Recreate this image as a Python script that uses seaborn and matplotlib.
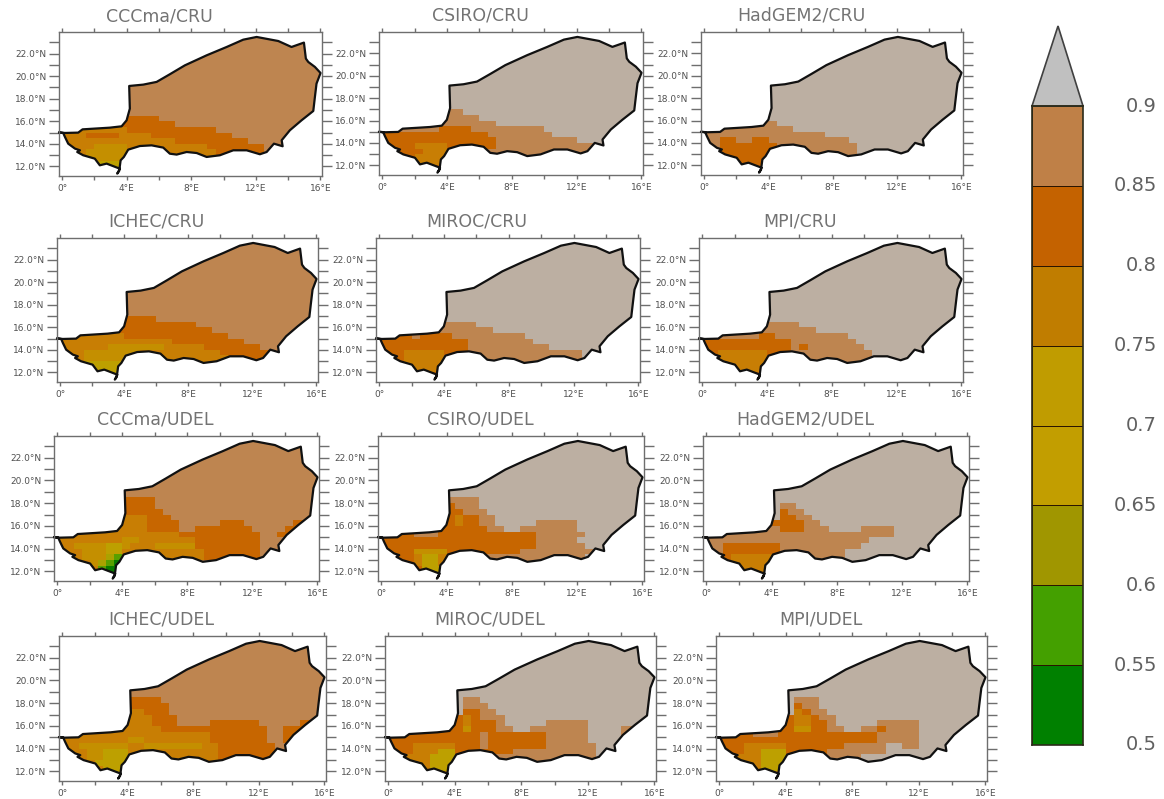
import numpy as np
import pandas as pd
import matplotlib.pyplot as plt
from matplotlib.colors import ListedColormap, BoundaryNorm
from matplotlib.patches import Polygon
import seaborn as sns

# Colour classes: digit d in the rows below = class between level_edges[d-1] and level_edges[d]
level_edges = [0.5, 0.55, 0.6, 0.65, 0.7, 0.75, 0.8, 0.85, 0.9, 0.95]
bar_labels = ["0.5", "0.55", "0.6", "0.65", "0.7", "0.75", "0.8", "0.85", "0.9"]
bar_colors = ["#008000", "#44A000", "#A09600", "#C29E00", "#C09C00",
              "#C07D00", "#C46200", "#BF8047", "#C0C0C0"]
# the maps come out a little softer than the bar
map_colors = ["#0A7A00", "#58A000", "#AAA200", "#BDA000", "#C48F00",
              "#C87E04", "#C76600", "#BE8550", "#BCAFA2"]

# Niger outline
outline_lon = [-0.2, 0.17, 0.99, 1.26, 2.95, 3.68, 3.99, 4.19, 4.15, 5.02, 5.85, 6.67, 7.60, 8.95,
               10.19, 11.22, 12.05, 13.39, 14.21, 14.98, 15.10, 15.25, 15.66, 16.01, 15.76, 15.66,
               15.56, 14.83, 14.11, 13.60, 13.66, 13.12, 12.98, 12.67, 12.25, 11.43, 10.60, 9.77,
               8.95, 8.33, 7.71, 7.09, 6.67, 6.26, 5.54, 4.81, 4.09, 3.82, 3.62, 3.53, 3.41, 3.57,
               2.75, 2.33, 2.02, 1.30, 0.93, 1.10, 0.79, 0.37, 0.17, 0.06, -0.2]
outline_lat = [15.0, 14.96, 14.99, 15.28, 15.43, 15.55, 16.08, 17.12, 19.13, 19.25, 19.49, 20.17,
               20.96, 21.85, 22.59, 23.24, 23.48, 23.12, 22.59, 22.98, 21.56, 21.26, 20.82, 20.28,
               19.34, 18.15, 16.91, 16.08, 15.20, 14.31, 13.78, 14.01, 13.78, 13.27, 13.07, 13.42,
               13.42, 12.98, 12.83, 13.18, 13.27, 13.04, 13.12, 13.66, 13.86, 13.80, 13.48, 12.83,
               12.53, 11.59, 11.35, 11.79, 12.24, 12.09, 12.68, 12.98, 13.27, 13.42, 13.57, 14.01,
               14.60, 14.96, 15.0]

# Rows run south-aligned, last row is 11.0-11.5N, each char is a 0.5 degree cell from 0E
cccma_cru = ["888888887777", "88888887777777", "6666666677777777777", "666777766667777777777",
             "66666666666666777777777", "6666555566666666667777777", "6665555566666666666777777",
             "6655555566666666666666666", "66664444", "66664444", "66664444"]
csiro_cru = ["9999999988", "999999998888", "99999998888888", "88888887777888888888",
             "777777777777788888888", "777777777777778888888888", "77776666777777888888888888",
             "77777666888888888888888888", "77776666888888888888888888", "77776666", "77777777", "77777777"]
hadgem_cru = ["999999988", "88888888888", "888888888888888", "887788778888888888",
              "8877777778888888888", "7777777788888888888", "7777777788888888888",
              "77777777", "77777777", "77777777"]
ichec_cru = ["888888887777", "88888888777777777", "8888888777777777777", "666666667777777777777",
             "66666666666666777777777", "6666665555555666667777777", "666555555566666666667777777",
             "666555556666666666666777777", "664444446666666666666666666", "66664444", "66664444", "66664444"]
miroc_cru = ["999999998888", "99999998888888", "887787777888888888", "7777777777788888888",
             "777777777778888888888", "7776666677788888888888888", "7776666688888888888888888",
             "7776666688888888888888888", "77776666", "77777777", "77777777"]
mpi_cru = ["999999998888", "99999998888888", "888888877888888888", "7777777777788888888",
           "77777777777878888888", "776666667778888888888", "776666668888888888888",
           "776666668888888888888", "77766666", "77777777", "77777777"]
cccma_udel = ["888888887777", "888888887777", "8888888877777", "88888888666777",
              "8888888866677778888877788888877", "888888866667777887777777888877",
              "66666666666666677777777778877", "6666666655666666677777777",
              "6655554456665555577777777", "6665554466666666667777777",
              "6665553266666666667777777", "66665321", "66666211", "66666611", "66666611"]
csiro_udel = ["999999998888", "999999997888", "9999999977888", "99999999767788",
              "999999997677889999988888", "999999977777788998888888",
              "7777888777777777777888888", "777777777777777777788888",
              "7777777777777777777888888", "77775555777777777888888888",
              "7777644688888888888888888", "7777644688888888888888888",
              "77777444", "77777444", "77777444"]
hadgem_udel = ["99999999988", "999999999788", "9999999997788", "99999999777788",
               "99999998877788899998888", "88888888888888888888888", "88888888888888888888",
               "8877777778888888888", "88777777788888888", "77766666888888888",
               "77766666", "77776666", "77776666", "77776666"]
ichec_udel = ["888888887777", "8888888877777", "8888888866777", "88888888666777",
              "8888888866677788887777778888877", "888888866666777777777777788777",
              "66666666666666666677777778877", "66666666556666666677777778877",
              "6655555566555555566777777788", "666554446666666666677777777",
              "666554446666666666677777777", "666644446666666666677777777",
              "66666444", "66666444", "66666444"]
miroc_udel = ["99999999988", "999999999888", "9999999997788", "99999999767888",
              "999999997677789999988888", "9999999775777889988888889999888",
              "777777777778777777788888999988", "777777777778777777788888",
              "7776666677787777777888888", "7776664477777778888888888",
              "7766644488888888888888888", "7776644488888888888888888",
              "77776444", "77776666", "77776666"]
mpi_udel = ["999999999888", "999999999788", "9999999996788", "99999999766788",
            "999999997667789999988888", "999999977557788998878888",
            "777788877777777777788888", "777777777777777777788888",
            "777666667777777888889988", "77766444777778888888",
            "77666444888888888", "77766444888888888",
            "77776444", "77776666", "77776666"]

panel_titles = ["CCCma/CRU", "CSIRO/CRU", "HadGEM2/CRU", "ICHEC/CRU", "MIROC/CRU", "MPI/CRU",
                "CCCma/UDEL", "CSIRO/UDEL", "HadGEM2/UDEL", "ICHEC/UDEL", "MIROC/UDEL", "MPI/UDEL"]
panel_rows = [cccma_cru, csiro_cru, hadgem_cru, ichec_cru, miroc_cru, mpi_cru,
              cccma_udel, csiro_udel, hadgem_udel, ichec_udel, miroc_udel, mpi_udel]
panel_fill = ["8", "9", "9", "8", "9", "9", "8", "9", "9", "8", "9", "9"]

# Frames in pixels: left, right, top, bottom
panel_boxes = [(59, 322, 32, 176), (379, 643, 32, 175), (701, 963, 32, 175),
               (57, 318, 238, 382), (376, 640, 238, 382), (699, 963, 238, 382),
               (54, 319, 436, 581), (378, 644, 436, 581), (703, 969, 436, 581),
               (59, 326, 636, 781), (385, 656, 636, 781), (716, 987, 636, 781)]

W, H = 1164, 799
N_ROWS, N_COLS = 26, 33
GREY = "#6e6e6e"

sns.set_style("ticks")
plt.rcParams["font.family"] = ["DejaVu Sans"]
fig = plt.figure(figsize=(W / 100, H / 100), dpi=100)

mids = [(level_edges[i] + level_edges[i + 1]) / 2 for i in range(9)]
norm = BoundaryNorm(level_edges, 9)
map_cmap = ListedColormap(map_colors)
bar_cmap = ListedColormap(bar_colors)


def to_x(lon):
    return np.asarray(lon) / 0.5


def to_y(lat):
    return (24 - np.asarray(lat)) / 0.5


def add_box(left, right, top, bottom):
    return fig.add_axes([left / W, 1 - bottom / H, (right - left) / W, (bottom - top) / H])


def lon_label(v):
    return "0°" if v == 0 else f"{v}°E"


for title, rows, fill, box in zip(panel_titles, panel_rows, panel_fill, panel_boxes):
    ax = add_box(*box)
    rows = [""] * (N_ROWS - len(rows)) + rows
    grid = np.array([[mids[int(c) - 1] for c in r.ljust(N_COLS, fill)] for r in rows])
    sns.heatmap(pd.DataFrame(grid), ax=ax, cmap=map_cmap, norm=norm, cbar=False,
                xticklabels=False, yticklabels=False)

    # keep only the cells inside the country
    shape = Polygon(np.column_stack([to_x(outline_lon), to_y(outline_lat)]),
                    transform=ax.transData, fill=False, edgecolor="none")
    ax.add_patch(shape)
    ax.collections[0].set_clip_path(shape)
    ax.plot(to_x(outline_lon), to_y(outline_lat), color="#111111", lw=1.6, clip_on=False)

    ax.set_xlim(to_x(-0.2), to_x(16.1))
    ax.set_ylim(to_y(11.14), to_y(23.92))

    for side in ax.spines.values():
        side.set_visible(True)
        side.set_color(GREY)
        side.set_linewidth(1)

    x_ticks = list(range(0, 17, 2))
    ax.set_xticks(to_x(x_ticks))
    ax.set_xticklabels([lon_label(v) if v % 4 == 0 else "" for v in x_ticks])
    ax.tick_params(axis="x", top=True, bottom=True, length=3, width=1, color=GREY,
                   labelsize=6.5, labelcolor="#505050", pad=3)
    y_ticks = list(range(12, 24))
    ax.set_yticks(to_y(y_ticks))
    ax.set_yticklabels([f"{v}.0°N" if v % 2 == 0 else "" for v in y_ticks], rotation=0)
    ax.tick_params(axis="y", left=True, right=True, length=7, width=1, color=GREY,
                   labelsize=6.5, labelcolor="#505050", pad=2)

    ax.text(0.5 - 31 / (box[1] - box[0]), 1 + 16 / (box[3] - box[2]), title,
            transform=ax.transAxes, ha="center", va="center",
            fontsize=12.5, color="#737373")

# Colour bar
cax = add_box(1032, 1083, 106, 745)
bar_values = pd.DataFrame({"v": mids[7::-1]})
sns.heatmap(bar_values, ax=cax, cmap=bar_cmap, norm=norm, cbar=False,
            xticklabels=False, yticklabels=False, linewidths=0.7, linecolor="#2b1500")
for side in cax.spines.values():
    side.set_visible(True)
    side.set_color("#2b2b1a")
    side.set_linewidth(1.2)
cax.add_patch(Polygon([(0, 1), (0.51, 1 + 80 / 639), (1, 1)], closed=True, transform=cax.transAxes,
                      facecolor=bar_colors[8], edgecolor="#404040", lw=1.2, clip_on=False))
for i, label in enumerate(bar_labels):
    cax.text(125 / 51, i / 8, label, transform=cax.transAxes, ha="right", va="center",
             fontsize=14, color="#606060")

plt.savefig("out.png", dpi=100)
